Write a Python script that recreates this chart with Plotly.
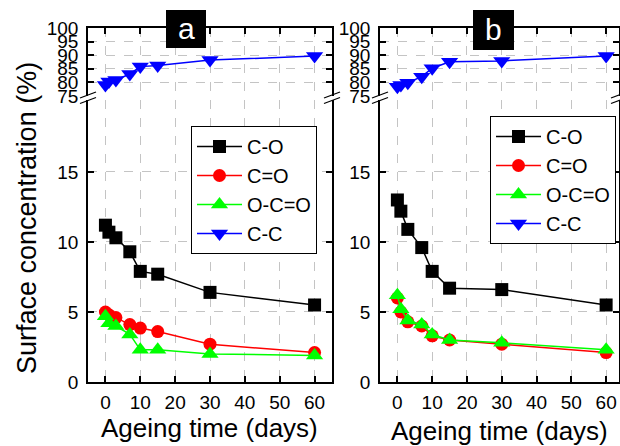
import plotly.graph_objects as go

W, H = 620, 446

days = [0, 1, 3, 7, 10, 15, 30, 60]

# Panel a
a_CO = [11.2, 10.7, 10.3, 9.3, 7.9, 7.7, 6.4, 5.5]
a_C_eq_O = [5.0, 4.8, 4.6, 4.1, 3.85, 3.6, 2.7, 2.1]
a_OCO = [4.7, 4.2, 4.0, 3.4, 2.3, 2.3, 2.0, 1.9]
a_CC = [79.0, 80.3, 80.9, 83.1, 85.8, 86.2, 88.2, 89.7]

# Panel b
b_CO = [13.0, 12.2, 10.9, 9.6, 7.9, 6.7, 6.6, 5.5]
b_C_eq_O = [6.0, 5.0, 4.3, 4.0, 3.3, 3.0, 2.7, 2.1]
b_OCO = [6.2, 5.2, 4.4, 4.1, 3.4, 3.0, 2.8, 2.3]
b_CC = [78.4, 79.0, 79.9, 82.1, 85.2, 87.6, 87.9, 89.7]

series_names = ["C-O", "C=O", "O-C=O", "C-C"]
colors = ["#000000", "#ff0000", "#00ff00", "#0000ff"]
symbols = ["square", "circle", "triangle-up", "triangle-down"]
sizes = [13, 13, 15, 15]

x_ticks = [0, 10, 20, 30, 40, 50, 60]
ybot_ticks = [0, 5, 10, 15]
ytop_ticks = [75, 80, 85, 90, 95, 100]

FONT = "Liberation Sans, Arial, sans-serif"


def px_x(p):
    return p / W


def px_y(p):
    return (H - p) / H


fig = go.Figure()

panels = [
    (a_CO, a_C_eq_O, a_OCO, a_CC, ("x", "y"), ("x2", "y2"), "legend"),
    (b_CO, b_C_eq_O, b_OCO, b_CC, ("x3", "y3"), ("x4", "y4"), "legend2"),
]

for co, ceo, oco, cc, bot, top, leg in panels:
    for i, vals in enumerate([co, ceo, oco, cc]):
        xa, ya = (top if i == 3 else bot)
        fig.add_trace(go.Scatter(
            x=days, y=vals, mode="lines+markers", name=series_names[i],
            xaxis=xa, yaxis=ya, legend=leg,
            line=dict(color=colors[i], width=1.5),
            marker=dict(symbol=symbols[i], size=sizes[i], color=colors[i],
                        line=dict(width=0)),
            cliponaxis=False,
        ))

xa_dom = [px_x(88), px_x(332)]
xb_dom = [px_x(380), px_x(619)]
ybot_dom = [px_y(382), px_y(100)]
ytop_dom = [px_y(96), px_y(28)]

grid = dict(showgrid=True, gridcolor="#c4c4c4", griddash="dash", gridwidth=1)
common = dict(showline=True, linecolor="black", linewidth=1.5, ticks="inside",
              ticklen=6, tickwidth=1.5, tickcolor="black", zeroline=False,
              automargin=False,
              tickfont=dict(family=FONT, size=19, color="black"), **grid)

layout = dict(
    template="none",
    width=W, height=H, margin=dict(l=0, r=0, t=0, b=0, pad=0),
    autosize=False,
    plot_bgcolor="white", paper_bgcolor="white",
    font=dict(family=FONT, color="black"),
)

for (xb_name, yb_name, xt_name, yt_name, xdom, xr) in [
    ("xaxis", "yaxis", "xaxis2", "yaxis2", xa_dom, [-5, 65]),
    ("xaxis3", "yaxis3", "xaxis4", "yaxis4", xb_dom, [-5, 63.7]),
]:
    yb_ref = yb_name.replace("axis", "")
    xb_ref = xb_name.replace("axis", "")
    yt_ref = yt_name.replace("axis", "")
    xt_ref = xt_name.replace("axis", "")
    layout[xb_name] = dict(domain=xdom, anchor=yb_ref, range=xr,
                           tickmode="array", tickvals=x_ticks, mirror=False,
                           ticklabelstandoff=2, **common)
    layout[yb_name] = dict(domain=ybot_dom, anchor=xb_ref, range=[0, 20.14],
                           tickmode="array", tickvals=ybot_ticks, mirror="ticks",
                           ticklabelstandoff=4, **common)
    layout[xt_name] = dict(domain=xdom, anchor=yt_ref, range=xr, side="top",
                           tickmode="array", tickvals=x_ticks, mirror=False,
                           showticklabels=False, **common)
    layout[yt_name] = dict(domain=ytop_dom, anchor=xt_ref, range=[75, 100],
                           tickmode="array", tickvals=ytop_ticks, mirror="ticks",
                           ticklabelstandoff=4, **common)

leg_common = dict(font=dict(family=FONT, size=20, color="black"),
                  bordercolor="black", borderwidth=1, bgcolor="white",
                  xanchor="left", yanchor="top", itemwidth=45,
                  tracegroupgap=0)
layout["legend"] = dict(x=px_x(191), y=px_y(126), **leg_common)
layout["legend2"] = dict(x=px_x(490), y=px_y(116), **leg_common)

shapes = []
# axis-break marks
for xe in [88, 332, 380, 619]:
    for yc in [95.0, 100.5]:
        shapes.append(dict(type="line", xref="paper", yref="paper",
                           x0=px_x(xe - 8), y0=px_y(yc + 3),
                           x1=px_x(xe + 8), y1=px_y(yc - 3),
                           line=dict(color="black", width=1.3)))
# panel label boxes
for (x0, x1, y0, y1) in [(166, 206, 10, 48), (473, 514, 10, 50)]:
    shapes.append(dict(type="rect", xref="paper", yref="paper",
                       x0=px_x(x0), x1=px_x(x1), y0=px_y(y1), y1=px_y(y0),
                       fillcolor="black", line=dict(width=0), layer="above"))
layout["shapes"] = shapes

annotations = [
    dict(text="a", x=px_x(186), y=px_y(29), xref="paper", yref="paper",
         showarrow=False, font=dict(family=FONT, size=30, color="white"),
         xanchor="center", yanchor="middle"),
    dict(text="b", x=px_x(493.5), y=px_y(30), xref="paper", yref="paper",
         showarrow=False, font=dict(family=FONT, size=30, color="white"),
         xanchor="center", yanchor="middle"),
    dict(text="Surface concentration (%)", x=px_x(27), y=px_y(218),
         xref="paper", yref="paper", showarrow=False, textangle=-90,
         font=dict(family=FONT, size=27, color="black"),
         xanchor="center", yanchor="middle"),
    dict(text="Ageing time (days)", x=px_x(209), y=px_y(428),
         xref="paper", yref="paper", showarrow=False,
         font=dict(family=FONT, size=26, color="black"),
         xanchor="center", yanchor="middle"),
    dict(text="Ageing time (days)", x=px_x(500), y=px_y(431),
         xref="paper", yref="paper", showarrow=False,
         font=dict(family=FONT, size=26, color="black"),
         xanchor="center", yanchor="middle"),
]
layout["annotations"] = annotations

fig.update_layout(**layout)
fig.write_html("out.html",
               config={"displayModeBar": False},
               post_script="document.body.style.margin='0px';document.body.style.overflow='hidden';")
